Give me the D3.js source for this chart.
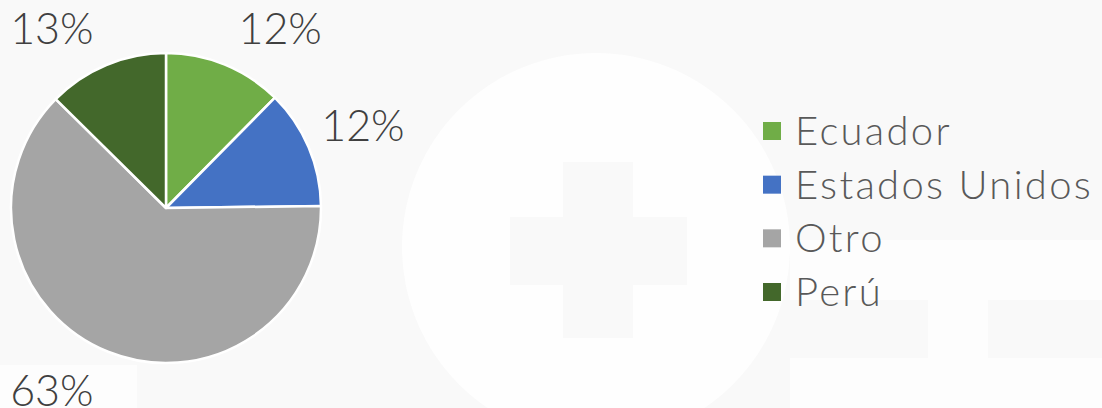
<!DOCTYPE html>
<html>
<head>
<meta charset="utf-8">
<script src="https://cdnjs.cloudflare.com/ajax/libs/d3/7.8.5/d3.min.js"></script>
<style>
  html, body { margin: 0; padding: 0; background: #f9f9f9; }
  svg { display: block; }
  text { font-family: "Lato", "Noto Sans", sans-serif; font-weight: 300; }
</style>
</head>
<body>
<svg id="chart"></svg>
<script>
// data
const countries = ["Ecuador", "Estados Unidos", "Otro", "Perú"];
const shares = [12.4, 12.4, 62.6, 12.6];
const colors = ["#70ad47", "#4472c4", "#a5a5a5", "#43682b"];

const width = 1102, height = 408;
const cx = 166, cy = 208, radius = 155;

const svg = d3.select('#chart')
    .attr('width', width)
    .attr('height', height);

// faint watermark in the background
const bg = svg.append('g');
bg.append('rect').attr('x', 0).attr('y', 365).attr('width', 137).attr('height', 43).attr('fill', '#fdfdfd');
bg.append('rect').attr('x', 790).attr('y', 240).attr('width', 312).attr('height', 168).attr('fill', '#fdfdfd');
bg.append('rect').attr('x', 790).attr('y', 300).attr('width', 138).attr('height', 58).attr('fill', '#f9f9f9');
bg.append('rect').attr('x', 988).attr('y', 300).attr('width', 114).attr('height', 58).attr('fill', '#f9f9f9');
bg.append('circle').attr('cx', 596).attr('cy', 247).attr('r', 194).attr('fill', '#fefefe');
bg.append('rect').attr('x', 563).attr('y', 162).attr('width', 70).attr('height', 176).attr('fill', '#f9f9f9');
bg.append('rect').attr('x', 510).attr('y', 217).attr('width', 177).attr('height', 68).attr('fill', '#f9f9f9');

const data = countries.map((c, i) => ({name: c, value: shares[i], color: colors[i]}));

const pie = d3.pie()
    .sort(null)
    .value(d => d.value);

const arc = d3.arc()
    .innerRadius(0)
    .outerRadius(radius);

const arcs = pie(data);

const g = svg.append('g')
    .attr('transform', `translate(${cx},${cy})`);

g.selectAll('path')
    .data(arcs)
    .enter().append('path')
    .attr('d', arc)
    .attr('fill', d => d.data.color)
    .attr('stroke', '#fff')
    .attr('stroke-width', 2.5)
    .attr('stroke-linejoin', 'round');

// labels: outside the pie, pushed back inside the frame
const labelR = 214, maxDy = 181;
const pct = d3.format('.0%');
const total = d3.sum(shares);

g.selectAll('text.lbl')
    .data(arcs)
    .enter().append('text')
    .attr('class', 'lbl')
    .attr('text-anchor', 'middle')
    .attr('fill', '#404040')
    .style('font-size', '43px')
    .attr('transform', d => {
      const a = (d.startAngle + d.endAngle) / 2;
      let x = Math.sin(a) * labelR, y = -Math.cos(a) * labelR;
      if (Math.abs(y) > maxDy) {
        y = Math.sign(y) * maxDy;
        x = Math.sign(x) * Math.sqrt(labelR * labelR - y * y);
      }
      return `translate(${x},${y + 17})`;
    })
    .text(d => pct(d.data.value / total));

// legend
const ly = d3.scalePoint()
    .domain(countries)
    .range([131, 292]);

const legend = svg.append('g')
    .selectAll('g')
    .data(data)
    .enter().append('g')
    .attr('transform', d => `translate(763,${ly(d.name)})`);

legend.append('rect')
    .attr('x', 0)
    .attr('y', -9)
    .attr('width', 18)
    .attr('height', 18)
    .attr('fill', d => d.color);

legend.append('text')
    .attr('x', 32)
    .attr('y', 14)
    .attr('fill', '#595959')
    .style('font-size', '40px')
    .style('letter-spacing', '2.3px')
    .text(d => d.name);
</script>
</body>
</html>
